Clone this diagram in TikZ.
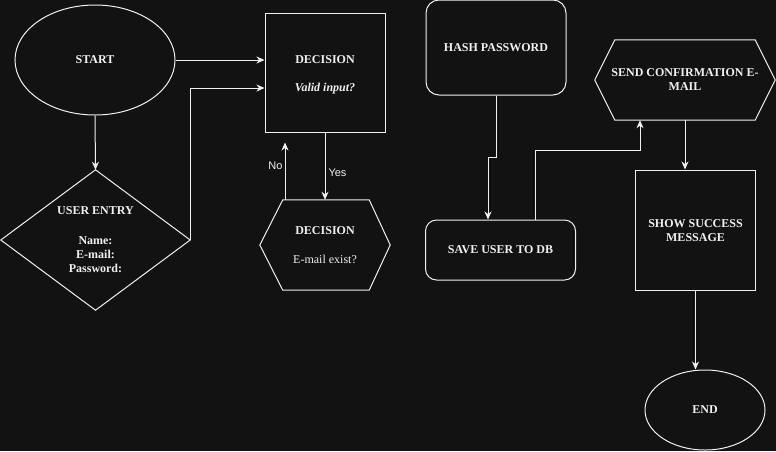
\documentclass[tikz,border=0pt]{standalone}
\usepackage{fontspec}
\setmainfont{Liberation Serif}
\newfontfamily\lsans{Liberation Sans}
\usetikzlibrary{shapes.geometric,arrows.meta,calc}
\definecolor{bg}{HTML}{121212}
\definecolor{fg}{HTML}{F0F0F0}
\begin{document}
\begin{tikzpicture}[x=1pt,y=-1pt,
  ln/.style={draw=fg, line width=1pt},
  arr/.style={draw=fg, line width=1pt, -{Stealth[length=8pt,width=7pt,inset=2.5pt]}},
  txt/.style={font=\fontsize{12}{14}\selectfont\bfseries, align=center, text=fg, inner sep=0pt},
  lbl/.style={font=\lsans\fontsize{11}{13}\selectfont, text=fg, inner sep=0pt}
]
\useasboundingbox (0,0) rectangle (776,451);
\fill[bg] (0,0) rectangle (776,451);

% nodes
\node[ellipse, ln, minimum width=160, minimum height=110, txt] (start) at (95,60) {START};
\node[rectangle, ln, minimum width=120, minimum height=119, inner sep=0pt] (dec1) at (325,72.5) {};
\node[txt] (dec1t) at (325,75) {DECISION\\[14pt]\textit{Valid input?}};
\node[rectangle, minimum width=189, minimum height=140, txt] (ue) at (95.5,240) {USER ENTRY\\[16pt]Name:\\E-mail:\\Password:};
\draw[ln] (ue.north) -- (ue.east) -- (ue.south) -- (ue.west) -- cycle;
\node[rectangle, minimum width=130, minimum height=90, txt] (dec2) at (325,245) {DECISION\\[15pt]\mdseries E-mail exist?};
\draw[ln] ($(dec2.north west)+(23,0)$) -- ($(dec2.north east)+(-21,0)$) -- (dec2.east) -- ($(dec2.south east)+(-21,0)$) -- ($(dec2.south west)+(23,0)$) -- (dec2.west) -- cycle;
\node[rectangle, rounded corners=13pt, ln, minimum width=140, minimum height=95, txt] (hash) at (496,47.5) {HASH PASSWORD};
\node[rectangle, rounded corners=11pt, ln, minimum width=150, minimum height=60, txt] (save) at (500.5,250) {SAVE USER TO DB};
\node[rectangle, minimum width=180, minimum height=80, txt] (send) at (685,80) {SEND CONFIRMATION E-\\MAIL};
\draw[ln] ($(send.north west)+(20,0)$) -- ($(send.north east)+(-20,0)$) -- (send.east) -- ($(send.south east)+(-20,0)$) -- ($(send.south west)+(20,0)$) -- (send.west) -- cycle;
\node[rectangle, ln, minimum width=120, minimum height=120, inner sep=0pt] (show) at (695.5,230) {};
\node[txt] (showt) at (695.5,231) {SHOW SUCCESS\\MESSAGE};
\node[ellipse, ln, minimum width=120, minimum height=80, txt] (end) at (705,410) {END};

% connectors
\draw[arr] (start.east) -- (dec1.west |- start.east);
\draw[arr] (start.south) -- (ue.north);
\coordinate (ueend) at ($(dec1.west)+(0,15.5)$);
\draw[arr] (ue.east) |- (ueend);
\draw[arr] (dec1.south) -- (dec2.north) node[lbl, pos=0.6, right=3pt] {Yes};
\coordinate (nostart) at ($(dec2.north)+(-40,0)$);
\coordinate (noend) at ($(dec1.south)+(-40,10)$);
\draw[arr] (nostart) -- (noend) node[lbl, pos=0.59, left=2pt] {No};
\coordinate (j1) at (488,157);
\draw[arr] (hash.south) |- (j1) -- (j1 |- save.north);
\coordinate (s1) at ($(save.north)+(34.5,0)$);
\coordinate (j2) at (640,150);
\draw[arr] (s1) |- (j2) -- (j2 |- send.south);
\draw[arr] (send.south) -- (send.south |- show.north);
\draw[arr] (show.south) -- (show.south |- end.north);
\end{tikzpicture}
\end{document}
